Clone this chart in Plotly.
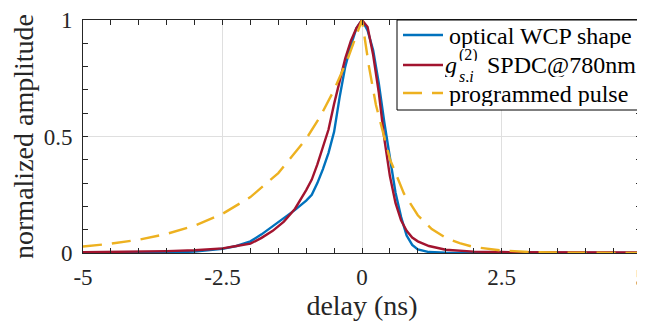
import plotly.graph_objects as go

# ---- data ----
wcp_delay = [-5, -4, -3.5, -3, -2.5, -2.25, -2.0, -1.8, -1.6, -1.4, -1.2, -1.0, -0.9, -0.8,
             -0.7, -0.6, -0.5, -0.4, -0.3, -0.2, -0.1, 0, 0.1, 0.2, 0.3, 0.4, 0.5, 0.6, 0.7,
             0.8, 0.9, 1.0, 1.2, 1.5, 2.0, 3.0, 5.0]
wcp_amp = [0.0, 0.0, 0.002, 0.006, 0.018, 0.03, 0.05, 0.08, 0.115, 0.15, 0.185, 0.225, 0.25, 0.30,
           0.36, 0.43, 0.52, 0.67, 0.80, 0.89, 0.965, 1.0, 0.955, 0.87, 0.73, 0.56, 0.40, 0.26, 0.155,
           0.075, 0.035, 0.015, 0.004, 0.001, 0.0, 0.0, 0.0]

g2_delay = [-5, -4, -3.5, -3, -2.5, -2.25, -2.0, -1.8, -1.6, -1.4, -1.2, -1.0, -0.9, -0.8,
            -0.7, -0.6, -0.5, -0.4, -0.3, -0.2, -0.1, 0, 0.1, 0.2, 0.3, 0.4, 0.5, 0.6, 0.7,
            0.8, 0.9, 1.0, 1.2, 1.5, 2.0, 2.5, 3.0, 5.0]
g2_amp = [0.003, 0.005, 0.008, 0.012, 0.02, 0.03, 0.04, 0.065, 0.095, 0.135, 0.19, 0.27, 0.315, 0.38,
          0.46, 0.53, 0.64, 0.74, 0.835, 0.91, 0.965, 1.0, 0.97, 0.85, 0.69, 0.49, 0.33, 0.215, 0.14,
          0.095, 0.066, 0.05, 0.03, 0.014, 0.006, 0.004, 0.003, 0.002]

pulse_delay = [-5, -4.5, -4, -3.5, -3, -2.5, -2, -1.5, -1, -0.75, -0.5, -0.25, 0, 0.125, 0.25,
               0.5, 0.75, 1, 1.25, 1.5, 1.75, 2, 2.5, 3, 3.5, 4, 4.5, 5]
pulse_amp = [0.028, 0.040, 0.057, 0.082, 0.117, 0.168, 0.240, 0.343, 0.490, 0.585, 0.700, 0.837, 1.0,
             0.80, 0.635, 0.403, 0.256, 0.162, 0.103, 0.065, 0.042, 0.026, 0.011, 0.004, 0.002,
             0.001, 0.0, 0.0]

x_ticks = [-5, -2.5, 0, 2.5, 5]
x_ticktext = ["-5", "-2.5", "0", "2.5", "5"]
y_ticks = [0, 0.5, 1]
y_ticktext = ["0", "0.5", "1"]

series_names = ["optical WCP shape", "SPDC@780nm", "programmed pulse"]
series_colors = ["#0072BD", "#A2142F", "#EDB120"]
series_dash = ["solid", "solid", "19px,10px"]

FONT = "Liberation Serif"
AXC = "#262626"
LW = 2.4

fig = go.Figure()
fig.add_trace(go.Scatter(x=wcp_delay, y=wcp_amp, mode="lines", name=series_names[0],
                         line=dict(color=series_colors[0], width=LW, dash=series_dash[0])))
fig.add_trace(go.Scatter(x=g2_delay, y=g2_amp, mode="lines", name="g(2)s,i " + series_names[1],
                         line=dict(color=series_colors[1], width=LW, dash=series_dash[1])))
fig.add_trace(go.Scatter(x=pulse_delay, y=pulse_amp, mode="lines", name=series_names[2],
                         line=dict(color=series_colors[2], width=LW, dash=series_dash[2])))

axis_common = dict(showline=True, linecolor=AXC, linewidth=1, mirror="ticks",
                   ticks="inside", ticklen=5, tickcolor=AXC, tickwidth=1,
                   showgrid=True, gridcolor="#dfdfdf", gridwidth=1, zeroline=False,
                   automargin=False, ticklabeloverflow="allow",
                   tickfont=dict(family=FONT, size=23, color=AXC))

fig.update_xaxes(range=[-5, 5], tickvals=x_ticks, ticktext=x_ticktext,
                 minor=dict(dtick=0.5, ticks="inside", ticklen=5, tickcolor=AXC, showgrid=False),
                 ticklabelstandoff=3,
                 title=dict(text="delay (ns)", font=dict(family=FONT, size=28, color=AXC), standoff=0),
                 **axis_common)
fig.update_yaxes(range=[0, 1], tickvals=y_ticks, ticktext=y_ticktext,
                 minor=dict(dtick=0.1, ticks="inside", ticklen=5, tickcolor=AXC, showgrid=False),
                 ticklabelstandoff=5,
                 title=dict(text="normalized amplitude", font=dict(family=FONT, size=28, color=AXC), standoff=5),
                 **axis_common)

# ---- hand-built legend (to get the stacked sub/superscript) ----
# plot area in page pixels: x 83..641, y 20..253
def px(X):
    return (X - 83) / 558.0

def py(Y):
    return (253 - Y) / 233.0

shapes = [dict(type="rect", xref="paper", yref="paper", x0=px(397), x1=px(640.5), y0=py(110), y1=py(20),
               line=dict(color="black", width=1), fillcolor="white", layer="above")]
item_y = [35, 65, 93]
for yy, col, dsh in zip(item_y, series_colors, series_dash):
    shapes.append(dict(type="line", xref="paper", yref="paper", x0=px(403), x1=px(443), y0=py(yy), y1=py(yy),
                       line=dict(color=col, width=LW, dash=dsh), layer="above"))

LF = 24
small = dict(family=FONT, size=16, color="black")
annotations = [
    dict(text=series_names[0], x=px(448), y=py(35.5), xanchor="left", yanchor="middle", height=24),
    dict(text="<i>g</i>", x=px(444), y=py(65.5), xanchor="left", yanchor="middle", height=24),
    dict(text="(2)", x=px(458), y=py(55), xanchor="left", yanchor="middle", font=small, height=12),
    dict(text="<i>s,i</i>", x=px(458), y=py(76), xanchor="left", yanchor="middle", font=small, height=12),
    dict(text=series_names[1], x=px(486), y=py(65.5), xanchor="left", yanchor="middle", height=24),
    dict(text=series_names[2], x=px(448), y=py(93.5), xanchor="left", yanchor="middle", height=24),
]
for a in annotations:
    a.update(xref="paper", yref="paper", showarrow=False, borderpad=0)
    a.setdefault("font", dict(family=FONT, size=LF, color="black"))

# page body has an 8px margin; figure sized so the plot area lands where the reference has it
fig.update_layout(
    width=637, height=315,
    margin=dict(l=75, r=4, t=12, b=70, autoexpand=False),
    plot_bgcolor="white", paper_bgcolor="white",
    font=dict(family=FONT, size=24, color="black"),
    showlegend=False,
    shapes=shapes,
    annotations=annotations,
)

fig.write_html("out.html")
